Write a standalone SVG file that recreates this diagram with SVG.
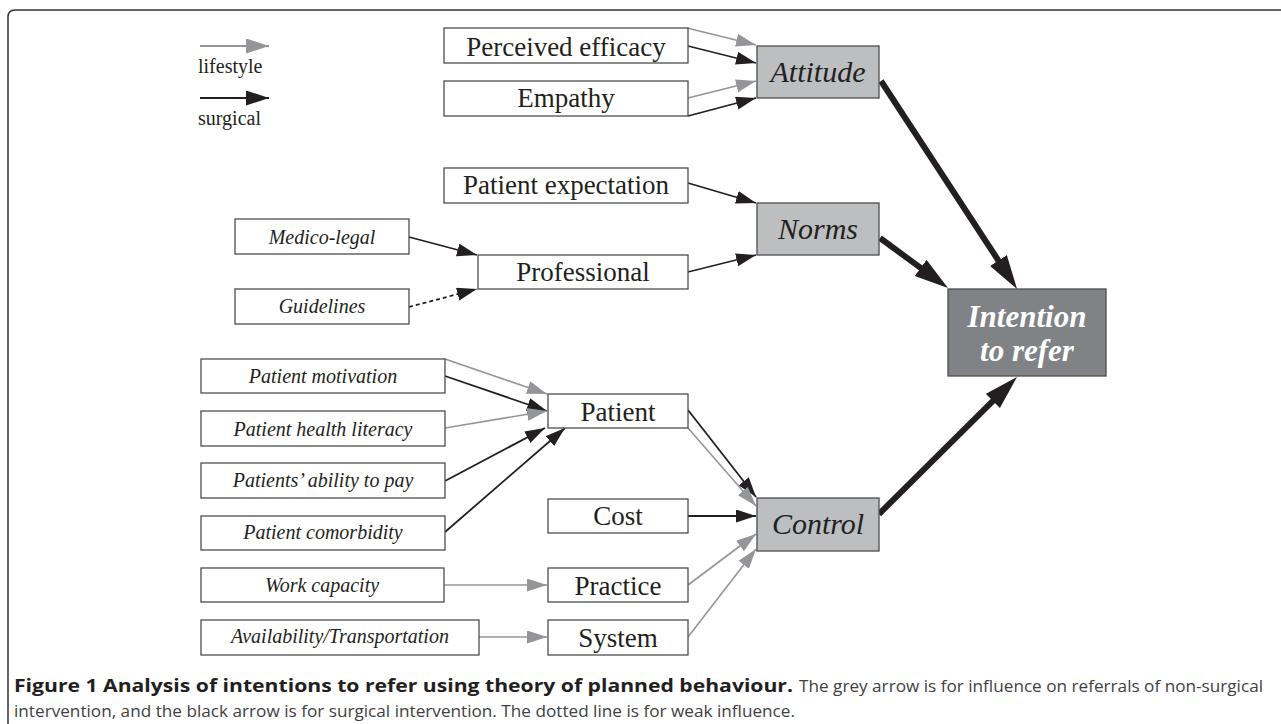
<svg xmlns="http://www.w3.org/2000/svg" width="1281" height="724" viewBox="0 0 1281 724">
<defs>
<marker id="hg" markerUnits="userSpaceOnUse" markerWidth="22" markerHeight="14" refX="20" refY="6.5" orient="auto"><path d="M0,0 L20,6.5 L0,13 z" fill="#939598"/></marker>
<marker id="hb" markerUnits="userSpaceOnUse" markerWidth="22" markerHeight="14" refX="20" refY="6.5" orient="auto"><path d="M0,0 L20,6.5 L0,13 z" fill="#231f20"/></marker>
<marker id="lg-g" markerUnits="userSpaceOnUse" markerWidth="24" markerHeight="16" refX="23" refY="7.5" orient="auto"><path d="M0,0 L23,7.5 L0,15 z" fill="#939598"/></marker>
<marker id="lg-b" markerUnits="userSpaceOnUse" markerWidth="24" markerHeight="16" refX="23" refY="7.5" orient="auto"><path d="M0,0 L23,7.5 L0,15 z" fill="#231f20"/></marker>
<marker id="hk" markerUnits="userSpaceOnUse" markerWidth="36" markerHeight="22" refX="14" refY="10" orient="auto"><path d="M0,0 L34,10 L0,20 z" fill="#231f20"/></marker>
</defs>
<style>
.bx{fill:#fff;stroke:#4d4d4f;stroke-width:1.3}
.lt{fill:#bcbec0;stroke:#4d4d4f;stroke-width:1.3}
.dk{fill:#808285;stroke:#4d4d4f;stroke-width:1.3}
.big{font-family:"Liberation Serif",serif;font-size:27px;fill:#231f20;text-anchor:middle}
.sm{font-family:"Liberation Serif",serif;font-size:20px;font-style:italic;fill:#231f20;text-anchor:middle}
.cn{font-family:"Liberation Serif",serif;font-size:30px;font-style:italic;fill:#231f20;text-anchor:middle}
.it{font-family:"Liberation Serif",serif;font-size:31px;font-style:italic;font-weight:bold;fill:#fff;text-anchor:middle}
.lg{font-family:"Liberation Serif",serif;font-size:20px;fill:#231f20}
.g{stroke:#939598;stroke-width:1.6;fill:none;marker-end:url(#hg)}
.b{stroke:#231f20;stroke-width:1.8;fill:none;marker-end:url(#hb)}
.k{stroke:#231f20;stroke-width:6;fill:none;marker-end:url(#hk)}
.cap{font-family:"Open Sans","Liberation Sans",sans-serif;font-size:17px;fill:#414042}
</style>
<rect width="1281" height="724" fill="#fff"/>
<path d="M8,724 V17 Q8,10 15,10 H1281" fill="none" stroke="#333" stroke-width="1.5"/>

<g id="legend">
<line x1="200" y1="46" x2="269" y2="46" stroke="#939598" stroke-width="1.8" marker-end="url(#lg-g)"/>
<text class="lg" x="198" y="73">lifestyle</text>
<line x1="200" y1="98" x2="269" y2="98" stroke="#231f20" stroke-width="2" marker-end="url(#lg-b)"/>
<text class="lg" x="198" y="125">surgical</text>
</g>

<g id="connectors">
<line class="g" x1="687" y1="28" x2="756" y2="45"/>
<line class="b" x1="688" y1="46" x2="756" y2="63"/>
<line class="g" x1="688" y1="98" x2="756" y2="81"/>
<line class="b" x1="688" y1="116" x2="756" y2="98"/>
<line class="b" x1="688" y1="183" x2="756" y2="203"/>
<line class="b" x1="688" y1="272" x2="756" y2="255"/>
<line class="b" x1="409" y1="237" x2="477" y2="255"/>
<line class="b" x1="409" y1="307" x2="477" y2="289" stroke-dasharray="4,3"/>
<line class="g" x1="445" y1="359" x2="547" y2="394"/>
<line class="b" x1="445" y1="376" x2="547" y2="411"/>
<line class="g" x1="445" y1="428" x2="547" y2="411"/>
<line class="b" x1="445" y1="481" x2="545" y2="428"/>
<line class="b" x1="445" y1="532" x2="565" y2="428"/>
<line class="b" x1="688" y1="410" x2="756" y2="497"/>
<line class="g" x1="688" y1="428" x2="756" y2="506"/>
<line class="b" x1="688" y1="516" x2="756" y2="516"/>
<line class="g" x1="688" y1="585" x2="756" y2="534"/>
<line class="g" x1="688" y1="637" x2="756" y2="549"/>
<line class="g" x1="444" y1="585" x2="547" y2="585"/>
<line class="g" x1="479" y1="637" x2="547" y2="637"/>
<line class="k" x1="881" y1="81" x2="1006.1" y2="272.3"/>
<line class="k" x1="880" y1="238" x2="931.9" y2="276.2"/>
<line class="k" x1="879" y1="514" x2="1002.8" y2="391.1"/>
</g>

<g id="perceived-efficacy"><rect class="bx" x="444" y="28" width="244" height="35"/><text class="big" x="566" y="56">Perceived efficacy</text></g>
<g id="empathy"><rect class="bx" x="444" y="81" width="244" height="35"/><text class="big" x="566" y="107">Empathy</text></g>
<g id="attitude"><rect class="lt" x="757" y="46" width="122" height="52"/><text class="cn" x="818" y="82">Attitude</text></g>
<g id="patient-expectation"><rect class="bx" x="444" y="168" width="244" height="35"/><text class="big" x="566" y="194">Patient expectation</text></g>
<g id="norms"><rect class="lt" x="757" y="203" width="122" height="52"/><text class="cn" x="818" y="239">Norms</text></g>
<g id="medico-legal"><rect class="bx" x="235" y="219" width="174" height="35"/><text class="sm" x="322" y="244">Medico-legal</text></g>
<g id="professional"><rect class="bx" x="478" y="255" width="210" height="34"/><text class="big" x="583" y="281">Professional</text></g>
<g id="guidelines"><rect class="bx" x="235" y="289" width="174" height="35"/><text class="sm" x="322" y="313">Guidelines</text></g>
<g id="intention"><rect class="dk" x="948" y="289" width="158" height="87"/><text class="it" x="1027" y="327">Intention</text><text class="it" x="1027" y="361">to refer</text></g>
<g id="patient-motivation"><rect class="bx" x="201" y="359" width="244" height="34"/><text class="sm" x="323" y="383">Patient motivation</text></g>
<g id="patient-health-literacy"><rect class="bx" x="201" y="411" width="244" height="35"/><text class="sm" x="323" y="436">Patient health literacy</text></g>
<g id="patients-ability"><rect class="bx" x="201" y="463" width="244" height="35"/><text class="sm" x="323" y="487">Patients’ ability to pay</text></g>
<g id="patient-comorbidity"><rect class="bx" x="201" y="516" width="244" height="34"/><text class="sm" x="323" y="539">Patient comorbidity</text></g>
<g id="patient"><rect class="bx" x="548" y="394" width="140" height="34"/><text class="big" x="618" y="421">Patient</text></g>
<g id="cost"><rect class="bx" x="548" y="499" width="140" height="34"/><text class="big" x="618" y="525">Cost</text></g>
<g id="control"><rect class="lt" x="757" y="498" width="122" height="53"/><text class="cn" x="818" y="534">Control</text></g>
<g id="work-capacity"><rect class="bx" x="201" y="568" width="243" height="34"/><text class="sm" x="322" y="592">Work capacity</text></g>
<g id="availability"><rect class="bx" x="201" y="620" width="278" height="35"/><text class="sm" x="340" y="643">Availability/Transportation</text></g>
<g id="practice"><rect class="bx" x="548" y="568" width="140" height="34"/><text class="big" x="618" y="595">Practice</text></g>
<g id="system"><rect class="bx" x="548" y="620" width="140" height="35"/><text class="big" x="618" y="647">System</text></g>

<g id="caption">
<text class="cap" x="14" y="692" font-weight="bold" style="fill:#231f20" textLength="779" lengthAdjust="spacingAndGlyphs">Figure 1 Analysis of intentions to refer using theory of planned behaviour.</text>
<text class="cap" x="799" y="692" textLength="464" lengthAdjust="spacingAndGlyphs">The grey arrow is for influence on referrals of non-surgical</text>
<text class="cap" x="14" y="717" textLength="781" lengthAdjust="spacingAndGlyphs">intervention, and the black arrow is for surgical intervention. The dotted line is for weak influence.</text>
</g>
</svg>
